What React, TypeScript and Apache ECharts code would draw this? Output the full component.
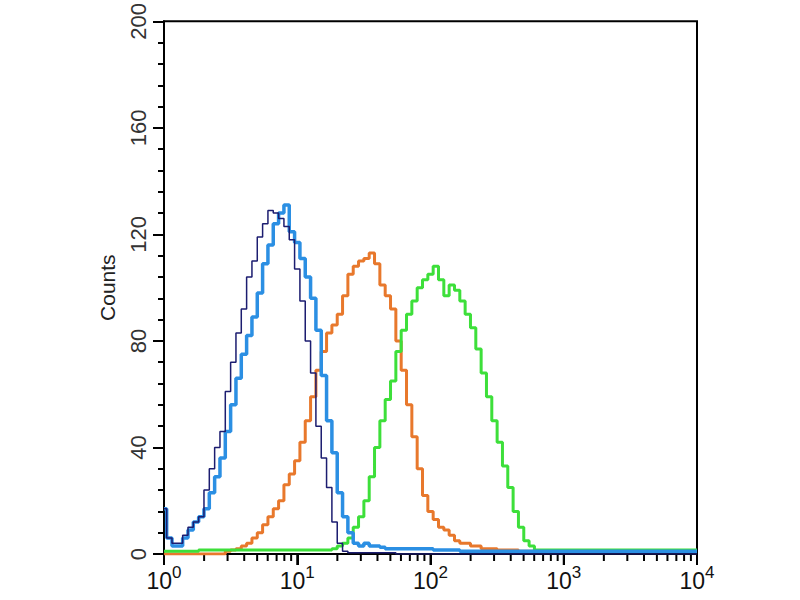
import React, { useEffect, useRef } from "react";
import * as echarts from "echarts";

// Histogram channels: 25 channels per decade, 10^0 .. 10^4 (101 channels)
const CHANNELS_PER_DECADE = 25;

const navyCounts = [
  17, 6, 4, 4, 7, 10, 12, 14, 24, 32,
  40, 46, 61, 72, 83, 92, 104, 110, 119, 124,
  129, 128, 126, 123, 118, 107, 95, 80, 68, 48,
  36, 25, 12, 4, 1, 0.5, 0.5, 0.5, 0.5, 0.5,
  0.5, 0.5, 0.5, 0.5, 0, 0, 0, 0, 0, 0,
  0, 0, 0, 0, 0, 0, 0, 0, 0, 0,
  0, 0, 0, 0, 0, 0, 0, 0, 0, 0,
  0, 0, 0, 0, 0, 0, 0, 0, 0, 0,
  0, 0, 0, 0, 0, 0, 0, 0, 0, 0,
  0, 0, 0, 0, 0, 0, 0, 0, 0, 0,
  0,
];

const blueCounts = [
  17, 6, 3, 3, 6, 9, 12, 14, 17, 23,
  29, 36, 46, 56, 66, 75, 82, 89, 98, 109,
  116, 124, 128, 131, 121, 117, 111, 104, 96, 84,
  67, 50, 38, 23, 14, 8, 4, 3, 4, 3,
  3, 2.5, 2, 2, 2, 2, 2, 2, 2, 2,
  2, 1.5, 1.5, 1.5, 1.5, 1.5, 1, 1, 1, 1,
  1, 1, 1, 1, 1, 1, 1, 1, 1, 1,
  1, 1, 1, 1, 1, 1, 1, 1, 1, 1,
  1, 1, 1, 1, 1, 1, 1, 1, 1, 1,
  1, 1, 1, 1, 1, 1, 1, 1, 1, 1,
  1,
];

const orangeCounts = [
  0, 0, 0, 0, 0, 0, 0, 0, 0, 0,
  0, 0, 1, 1.5, 2, 3, 4, 6, 8, 11,
  14, 17, 20, 26, 30, 35, 42, 50, 59, 69,
  76, 83, 86, 90, 97, 105, 108, 110, 111, 113,
  109, 101, 97, 92, 80, 69, 56, 44, 32, 22,
  16, 13, 10, 9, 7, 5, 4, 4, 3, 3,
  2, 2, 2, 1.5, 1.5, 1.5, 1.5, 1, 1, 1,
  1, 1, 1, 1, 1, 1, 1, 1, 1, 1,
  1, 1, 1, 1, 1, 1, 1, 1, 1, 1,
  1, 1, 1, 1, 1, 1, 1, 1, 1, 1,
  1,
];

const greenCounts = [
  1, 1, 1, 1, 1, 1, 1, 1.5, 1.5, 1.5,
  1.5, 1.5, 1.5, 1.5, 1.5, 1.5, 1.5, 1.5, 1.5, 1.5,
  1.5, 1.5, 1.5, 1.5, 1.5, 1.5, 1.5, 1.5, 1.5, 1.5,
  1.5, 1.5, 2, 3, 4, 6, 10, 14, 20, 29,
  40, 50, 58, 65, 76, 84, 90, 95, 100, 103,
  105, 108, 103, 97, 101, 99, 95, 90, 85, 77,
  68, 59, 50, 42, 33, 25, 16, 10, 5, 3,
  1.5, 1.5, 1.5, 1.5, 1.5, 1.5, 1.5, 1.5, 1.5, 1.5,
  1.5, 1.5, 1.5, 1.5, 1.5, 1.5, 1.5, 1.5, 1.5, 1.5,
  1.5, 1.5, 1.5, 1.5, 1.5, 1.5, 1.5, 1.5, 1.5, 1.5,
  1.5,
];

const yTicks = [0, 40, 80, 120, 160, 200];
const xMajorTicks = [1, 10, 100, 1000, 10000];
const xMinorTicks = [
  2, 3, 4, 5, 6, 7, 8, 9,
  20, 30, 40, 50, 60, 70, 80, 90,
  200, 300, 400, 500, 600, 700, 800, 900,
  2000, 3000, 4000, 5000, 6000, 7000, 8000, 9000,
];

const channelValue = (i: number) => Math.pow(10, i / CHANNELS_PER_DECADE);
const toData = (counts: number[]) => counts.map((c, i) => [channelValue(i), c]);

export default function App() {
  const ref = useRef<HTMLDivElement>(null);

  useEffect(() => {
    if (!ref.current) return;
    const chart = echarts.init(ref.current, null, { renderer: "svg" });
    const font = "Liberation Sans, Arial, sans-serif";
    const mkLine = (name: string, counts: number[], color: string, width: number) => ({
      name,
      type: "line",
      step: "middle",
      showSymbol: false,
      data: toData(counts),
      lineStyle: { color, width },
      itemStyle: { color },
    });
    const mkTicks = (values: number[], len: number) => ({
      type: "custom",
      clip: false,
      data: values.map((v) => [v, yTicks[0]]),
      renderItem: (_p: any, api: any) => {
        const p = api.coord([api.value(0), api.value(1)]);
        return {
          type: "line",
          shape: { x1: p[0], y1: p[1], x2: p[0], y2: p[1] + len },
          style: { stroke: "#000", lineWidth: 2 },
        };
      },
    });
    chart.setOption({
      animation: false,
      backgroundColor: "#ffffff",
      grid: {
        left: 164,
        right: 103,
        top: 20,
        bottom: 46,
        show: true,
        borderColor: "#000",
        borderWidth: 2,
      },
      xAxis: {
        type: "log",
        min: xMajorTicks[0],
        max: xMajorTicks[xMajorTicks.length - 1],
        axisLine: { show: true, lineStyle: { color: "#000", width: 2 } },
        axisTick: { show: true, length: 11, lineStyle: { color: "#000", width: 2 } },
        splitLine: { show: false },
        axisLabel: {
          margin: 10,
          formatter: (v: number) => `{b|10}{s|${Math.round(Math.log10(v))}}`,
          rich: {
            b: { fontSize: 23, fontFamily: font, color: "#111", verticalAlign: "bottom" },
            s: { fontSize: 17, fontFamily: font, color: "#111", verticalAlign: "bottom", padding: [0, 0, 11, 0] },
          },
        },
      },
      yAxis: {
        type: "value",
        min: yTicks[0],
        max: yTicks[yTicks.length - 1],
        interval: 40,
        name: "Counts",
        nameLocation: "middle",
        nameRotate: 90,
        nameGap: 46,
        nameTextStyle: { fontSize: 21, fontFamily: font, color: "#222" },
        axisLine: { show: true, lineStyle: { color: "#000", width: 2 } },
        axisTick: { show: true, length: 11, lineStyle: { color: "#000", width: 2 } },
        minorTick: { show: true, splitNumber: 5, length: 6, lineStyle: { color: "#000", width: 2 } },
        splitLine: { show: false },
        axisLabel: {
          rotate: 90,
          margin: 15,
          fontSize: 22,
          fontFamily: font,
          color: "#333",
        },
      },
      series: [
        mkLine("orange", orangeCounts, "#e8782c", 3),
        mkLine("green", greenCounts, "#3ddf3a", 3),
        mkLine("blue", blueCounts, "#2b8fe3", 3.5),
        mkLine("navy", navyCounts, "#1c1d70", 1.5),
        mkTicks(xMajorTicks, 11),
        mkTicks(xMinorTicks, 7),
      ],
    });
    return () => chart.dispose();
  }, []);

  return <div ref={ref} style={{ position: "fixed", left: 0, top: 0, width: 800, height: 600 }} />;
}
